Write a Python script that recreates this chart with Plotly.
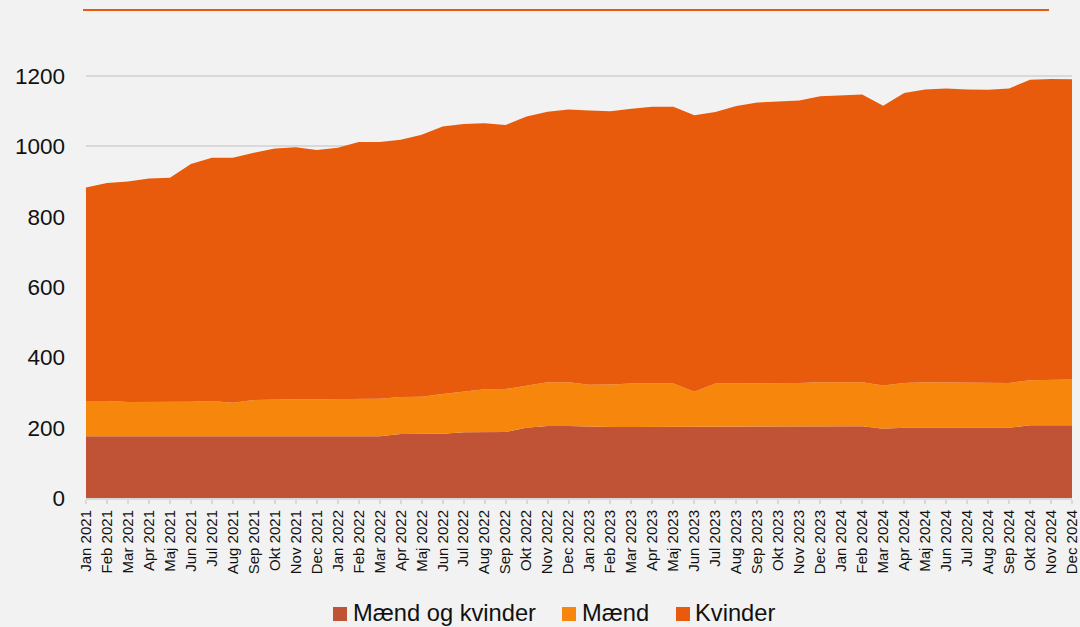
import plotly.graph_objects as go

months = ["Jan", "Feb", "Mar", "Apr", "Maj", "Jun", "Jul", "Aug", "Sep", "Okt", "Nov", "Dec"]
years = [2021, 2022, 2023, 2024]
categories = [f"{m} {y}" for y in years for m in months]

maend_og_kvinder = [176, 176, 176, 176, 176, 176, 176, 176, 176, 176, 176, 176,
                    176, 175, 176, 182, 182, 183, 187, 188, 188, 200, 205, 205,
                    203, 202, 202, 202, 202, 202, 203, 203, 203, 204, 204, 204,
                    204, 204, 197, 200, 200, 200, 200, 200, 200, 207, 207, 207]
maend = [100, 100, 97, 97, 97, 98, 100, 95, 103, 105, 105, 105,
         105, 106, 106, 105, 106, 113, 116, 121, 122, 120, 124, 124,
         119, 121, 124, 124, 124, 100, 123, 123, 123, 123, 123, 125,
         125, 125, 123, 127, 129, 129, 128, 127, 127, 128, 129, 130]
kvinder = [607, 620, 627, 636, 638, 676, 692, 697, 703, 713, 717, 709,
           715, 732, 731, 732, 745, 761, 761, 757, 751, 765, 770, 776,
           780, 777, 781, 787, 787, 787, 772, 789, 799, 800, 804, 814,
           817, 819, 796, 825, 833, 836, 834, 834, 838, 855, 856, 854]

series = [("Mænd og kvinder", maend_og_kvinder, "#C05336"),
          ("Mænd", maend, "#F6870C"),
          ("Kvinder", kvinder, "#E95B0C")]

W, H = 1080, 627
ML, MR, MT, MB = 86, 8, 41, 129
PW, PH = W - ML - MR, H - MT - MB


def px_x(px):
    return (px - ML) / PW


def px_y(py):
    return (H - MB - py) / PH


fig = go.Figure()
for name, vals, col in series:
    fig.add_trace(go.Scatter(
        x=categories, y=vals, name=name, mode="lines",
        stackgroup="one", line=dict(width=0, color=col),
        fillcolor=col, hoverinfo="x+y+name", showlegend=False))

# manual legend (square swatch + label), matching the reference layout
legend_items = [(333, 352), (562, 581), (676, 694)]
shapes = [dict(type="line", xref="paper", yref="paper", x0=px_x(83), x1=px_x(1049),
               y0=px_y(10), y1=px_y(10), line=dict(color="#E95B0C", width=2))]
annotations = []
for (sx, tx), (name, _, col) in zip(legend_items, series):
    shapes.append(dict(type="rect", xref="paper", yref="paper",
                       x0=px_x(sx), x1=px_x(sx + 14), y0=px_y(621), y1=px_y(607),
                       fillcolor=col, line=dict(width=0)))
    annotations.append(dict(text=name, xref="paper", yref="paper", x=px_x(tx - 1),
                            y=px_y(613), xanchor="left", yanchor="middle",
                            showarrow=False, font=dict(size=23.7, color="#111111")))

fig.update_layout(
    width=W, height=H,
    paper_bgcolor="#F2F2F2", plot_bgcolor="#F2F2F2",
    margin=dict(l=ML, r=MR, t=MT, b=MB, autoexpand=False),
    font=dict(family="Liberation Sans, Arial, sans-serif", color="#111111"),
    showlegend=False,
    shapes=shapes, annotations=annotations,
)
fig.update_xaxes(
    type="category", range=[0, len(categories) - 1],
    tickangle=-90, tickfont=dict(size=15),
    ticks="outside", ticklen=4, tickcolor="#D9D9D9", tickwidth=1.5,
    showgrid=False, showline=True, linecolor="#D9D9D9", linewidth=2,
    zeroline=False, automargin=False)
fig.update_yaxes(
    range=[0, 1300], tickvals=[0, 200, 400, 600, 800, 1000, 1200],
    tickfont=dict(size=22.5), showgrid=True, gridcolor="#D9D9D9", gridwidth=1.5,
    zeroline=False, showline=False, ticklabelstandoff=20, automargin=False)

fig.write_html("out.html", config={"displayModeBar": False},
               post_script="document.body.style.margin='0';document.body.style.background='#F2F2F2';")
